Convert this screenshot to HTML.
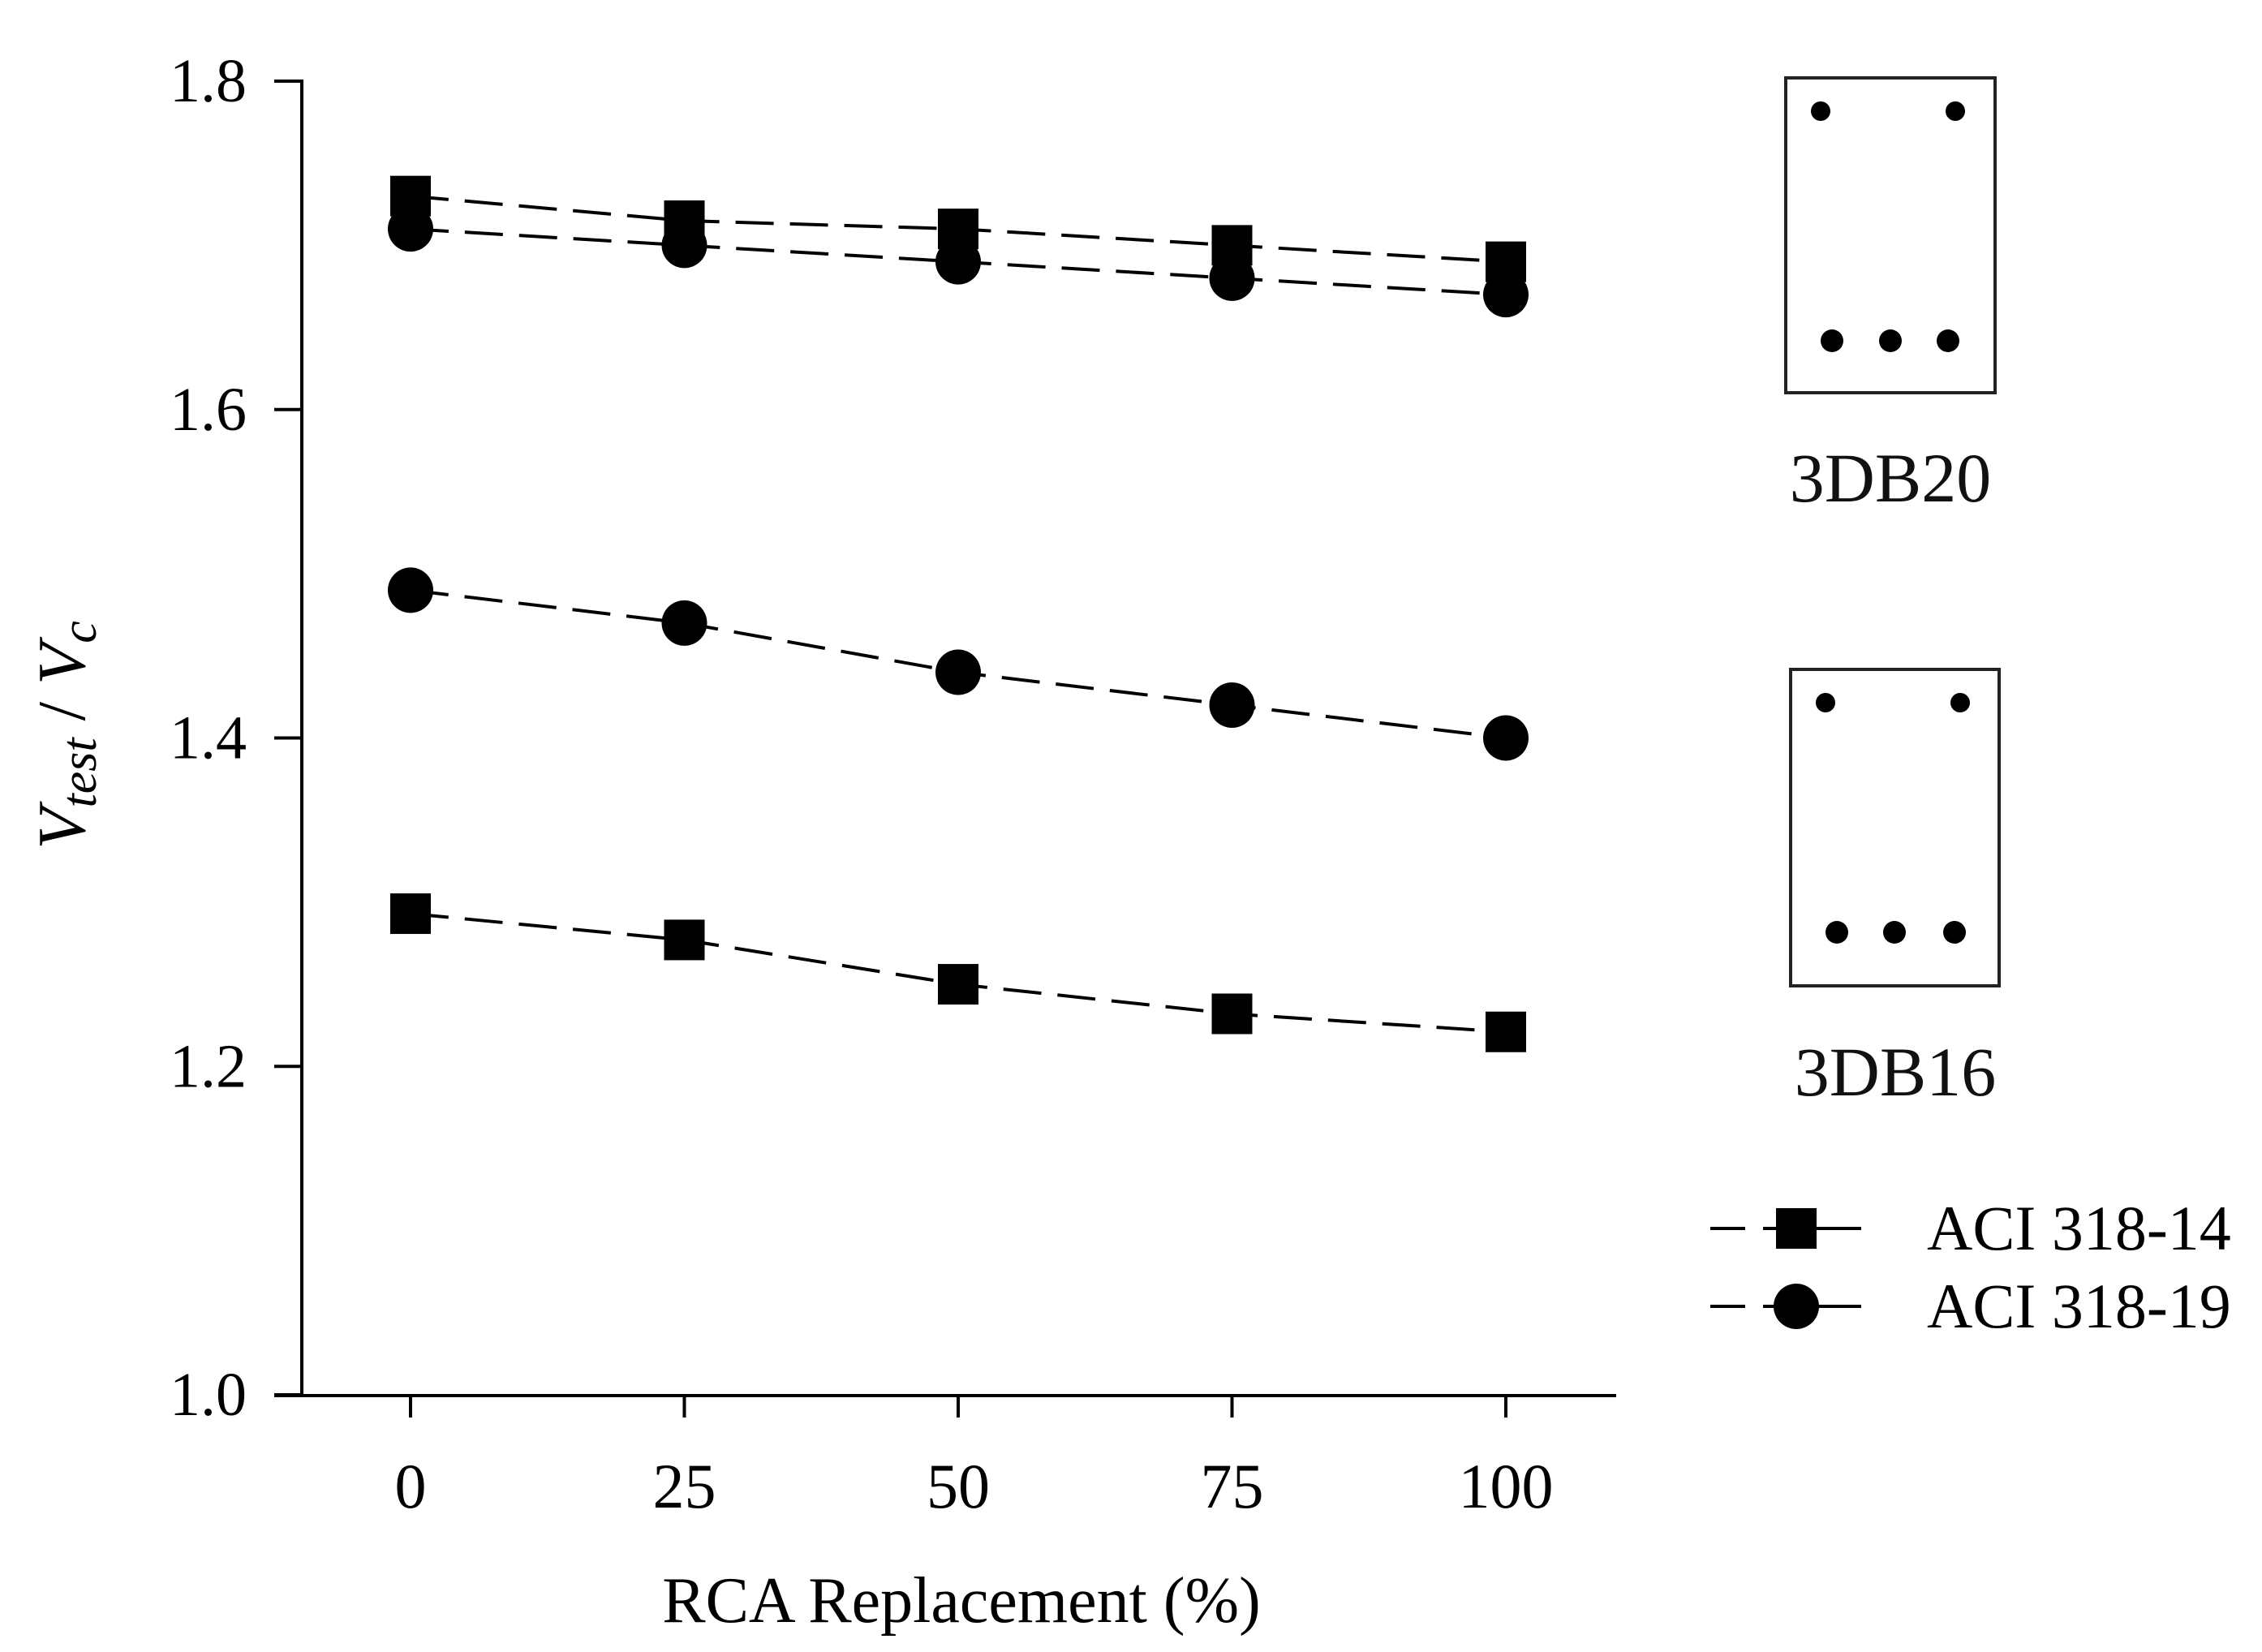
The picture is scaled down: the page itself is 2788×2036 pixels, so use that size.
<!DOCTYPE html>
<html><head><meta charset="utf-8"><style>
html,body{margin:0;padding:0;background:#fff;}
svg{display:block;font-family:"Liberation Serif",serif;}
</style></head><body>
<svg id="chart" width="2788" height="2036" viewBox="0 0 2788 2036" xmlns="http://www.w3.org/2000/svg">
<g id="axes"></g>
<g id="series"></g>
<g>
  <rect x="2201" y="96" width="258" height="388" fill="none" stroke="#222" stroke-width="4"/>
  <circle cx="2244" cy="137" r="12"/><circle cx="2410" cy="137" r="12"/>
  <circle cx="2258" cy="420" r="14"/><circle cx="2330" cy="420" r="14"/><circle cx="2401" cy="420" r="14"/>
  <text x="2330" y="618" font-size="86" text-anchor="middle" fill="#111">3DB20</text>
</g>
<g>
  <rect x="2207" y="825" width="257" height="390" fill="none" stroke="#222" stroke-width="4"/>
  <circle cx="2250" cy="866" r="12"/><circle cx="2416" cy="866" r="12"/>
  <circle cx="2264" cy="1149" r="14"/><circle cx="2335" cy="1149" r="14"/><circle cx="2409" cy="1149" r="14"/>
  <text x="2336" y="1350" font-size="86" text-anchor="middle" fill="#111">3DB16</text>
</g>
<g>
  <g>
    <line x1="2108" y1="1514" x2="2151" y2="1514" stroke="#000" stroke-width="4"/>
    <line x1="2173" y1="1514" x2="2294" y2="1514" stroke="#000" stroke-width="4" stroke-dasharray="31 20 200"/>
    <rect x="2189" y="1489" width="50" height="50"/>
    <text x="2375" y="1540" font-size="78">ACI 318-14</text>
  </g>
  <g>
    <line x1="2108" y1="1610" x2="2151" y2="1610" stroke="#000" stroke-width="4"/>
    <line x1="2173" y1="1610" x2="2294" y2="1610" stroke="#000" stroke-width="4" stroke-dasharray="31 20 200"/>
    <circle cx="2214" cy="1610" r="28"/>
    <text x="2375" y="1636" font-size="78">ACI 318-19</text>
  </g>
</g>
<text x="1185" y="1999" font-size="80" text-anchor="middle">RCA Replacement (%)</text>
<text transform="translate(104,906) rotate(-90)" font-size="84" text-anchor="middle"><tspan font-style="italic">V</tspan><tspan font-style="italic" font-size="62" dy="14">test</tspan><tspan dy="-14"> / </tspan><tspan font-style="italic">V</tspan><tspan font-style="italic" font-size="62" dy="14">c</tspan></text>
</svg>
<script>
const categories = [0, 25, 50, 75, 100];
const yTicks = [1.0, 1.2, 1.4, 1.6, 1.8];
const yTickLabels = ["1.0", "1.2", "1.4", "1.6", "1.8"];
const db20Aci14 = [1.73, 1.715, 1.71, 1.70, 1.69];
const db20Aci19 = [1.71, 1.70, 1.69, 1.68, 1.67];
const db16Aci19 = [1.49, 1.47, 1.44, 1.42, 1.40];
const db16Aci14 = [1.293, 1.277, 1.25, 1.232, 1.221];

const NS = "http://www.w3.org/2000/svg";
function xScale(v){ return 506 + (v - 0) * (1856 - 506) / 100; }
function yScale(v){ return 1719 - (v - 1.0) * (1719 - 100) / 0.8; }
function mk(tag, attrs, parent){ const e = document.createElementNS(NS, tag); for (const k in attrs) e.setAttribute(k, attrs[k]); parent.appendChild(e); return e; }

const axes = document.getElementById('axes');
const yAxis = mk('line', {x1:372, y1:98, x2:372, y2:1720, stroke:'#000', 'stroke-width':4}, axes);


const xAxis = mk('line', {x1:338, y1:1720, x2:1992, y2:1720, stroke:'#000', 'stroke-width':4}, axes);


yTicks.forEach((t, i) => {
  const y = yScale(t);
  const tk = mk('line', {x1:338, y1:y, x2:372, y2:y, stroke:'#000', 'stroke-width':4}, axes);
  
  
  const lb = mk('text', {x:304, y:y + 25, 'font-size':76, 'text-anchor':'end'}, axes);
  lb.textContent = yTickLabels[i];
  
  
});
categories.forEach(c => {
  const x = xScale(c);
  const tk = mk('line', {x1:x, y1:1720, x2:x, y2:1747, stroke:'#000', 'stroke-width':4}, axes);
  
  
  const lb = mk('text', {x:x, y:1858, 'font-size':78, 'text-anchor':'middle'}, axes);
  lb.textContent = String(c);
  
  
});

const series = document.getElementById('series');
function drawSeries(vals, shape, name){
  const g = mk('g', {}, series);
  
  
  const pts = vals.map((v, i) => xScale(categories[i]) + ',' + yScale(v)).join(' ');
  const pl = mk('polyline', {points:pts, fill:'none', stroke:'#000', 'stroke-width':4, 'stroke-dasharray':'47 20'}, g);
  
  
  vals.forEach((v, i) => {
    const x = xScale(categories[i]), y = yScale(v);
    let m;
    if (shape === 'square') m = mk('rect', {x:x - 25, y:y - 25, width:50, height:50, fill:'#000'}, g);
    else m = mk('circle', {cx:x, cy:y, r:28, fill:'#000'}, g);
    
    
  });
}
drawSeries(db20Aci14, 'square', 'series-3db20-aci-318-14');
drawSeries(db20Aci19, 'circle', 'series-3db20-aci-318-19');
drawSeries(db16Aci19, 'circle', 'series-3db16-aci-318-19');
drawSeries(db16Aci14, 'square', 'series-3db16-aci-318-14');
</script>
</body></html>
